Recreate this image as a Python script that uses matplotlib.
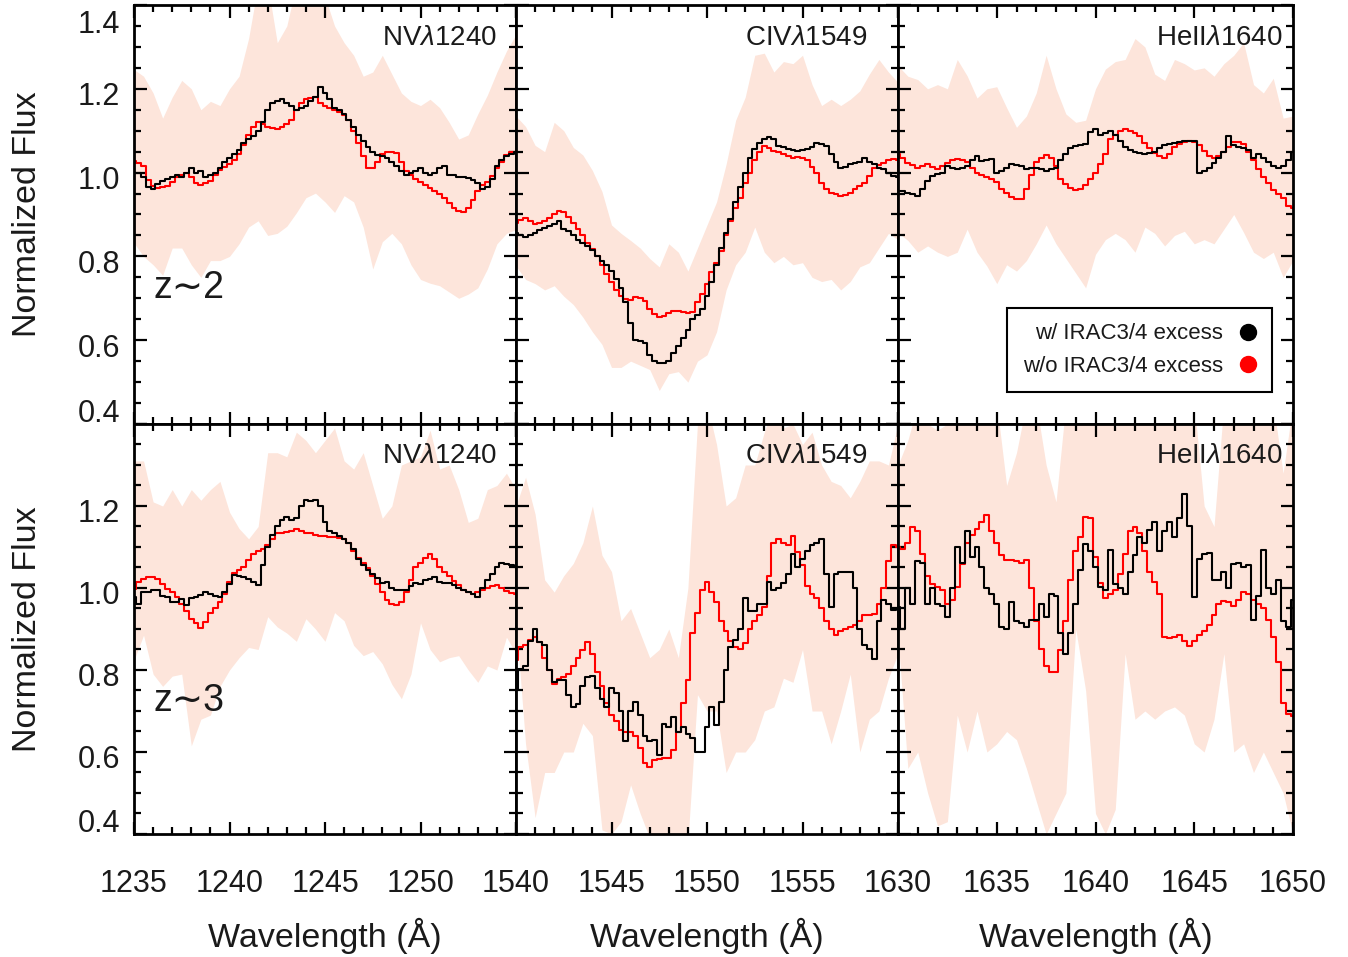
import matplotlib
matplotlib.use('Agg')
import matplotlib.pyplot as plt
import matplotlib.transforms as mtransforms
import numpy as np
from matplotlib.ticker import MultipleLocator
from matplotlib.lines import Line2D

plt.rcParams['font.family'] = ['Liberation Sans', 'DejaVu Sans']
plt.rcParams['mathtext.fontset'] = 'custom'
plt.rcParams['mathtext.rm'] = 'Liberation Sans'
plt.rcParams['mathtext.it'] = 'Liberation Sans:italic'

BAND = '#fde5db'
INK = '#1a1a1a'

# wavelength windows (Angstrom), composite spectra sampled every 0.25 A,
# scatter band every 0.5 A
nv_range = (1235, 1255)
civ_range = (1540, 1560)
heii_range = (1630, 1650)
line_step = 0.25
band_step = 0.5

# ---------------- z~2 ----------------
nv_z2_with = [1.000, 0.998, 0.990, 0.965, 0.960, 0.972, 0.980, 0.985, 0.990, 0.995,
              0.990, 1.000, 1.010, 1.000, 1.005, 0.990, 0.995, 1.000, 1.010, 1.025,
              1.035, 1.045, 1.055, 1.070, 1.080, 1.087, 1.100, 1.120, 1.150, 1.165,
              1.170, 1.175, 1.165, 1.160, 1.150, 1.155, 1.160, 1.170, 1.180, 1.205,
              1.190, 1.175, 1.155, 1.150, 1.140, 1.125, 1.110, 1.090, 1.075, 1.060,
              1.050, 1.043, 1.040, 1.035, 1.025, 1.015, 1.005, 0.995, 0.998, 1.005,
              1.010, 1.000, 0.995, 1.000, 1.010, 1.015, 0.995, 0.995, 0.990, 0.990,
              0.988, 0.983, 0.975, 0.960, 0.965, 0.985, 1.015, 1.030, 1.040, 1.045,
              1.050]
nv_z2_without = [1.027, 1.022, 1.015, 0.983, 0.968, 0.963, 0.965, 0.968, 0.978, 0.990,
                 0.995, 1.000, 0.990, 0.975, 0.970, 0.975, 0.980, 0.995, 1.007, 1.013,
                 1.020, 1.030, 1.045, 1.065, 1.090, 1.110, 1.120, 1.115, 1.108, 1.106,
                 1.105, 1.108, 1.115, 1.125, 1.150, 1.165, 1.175, 1.178, 1.180, 1.167,
                 1.160, 1.155, 1.150, 1.145, 1.138, 1.125, 1.100, 1.070, 1.040, 1.012,
                 1.010, 1.025, 1.045, 1.050, 1.050, 1.047, 1.025, 1.003, 0.995, 0.985,
                 0.978, 0.970, 0.963, 0.955, 0.948, 0.940, 0.928, 0.915, 0.908, 0.905,
                 0.915, 0.935, 0.955, 0.970, 0.978, 0.993, 1.010, 1.025, 1.043, 1.048,
                 1.050]
nv_z2_hi = [1.246, 1.23, 1.19, 1.13, 1.18, 1.22, 1.2, 1.15, 1.17, 1.16,
            1.2, 1.23, 1.32, 1.45, 1.45, 1.31, 1.35, 1.45, 1.45, 1.45,
            1.42, 1.35, 1.31, 1.28, 1.23, 1.24, 1.28, 1.235, 1.19, 1.17,
            1.16, 1.175, 1.155, 1.12, 1.08, 1.09, 1.14, 1.185, 1.24, 1.29,
            1.33]
nv_z2_lo = [0.832, 0.80, 0.78, 0.755, 0.82, 0.82, 0.78, 0.75, 0.79, 0.79,
            0.80, 0.83, 0.87, 0.885, 0.85, 0.855, 0.872, 0.904, 0.94, 0.951,
            0.93, 0.905, 0.945, 0.93, 0.87, 0.77, 0.835, 0.855, 0.83, 0.78,
            0.745, 0.736, 0.73, 0.715, 0.70, 0.71, 0.725, 0.77, 0.83, 0.855,
            0.864]

civ_z2_with = [0.857, 0.850, 0.847, 0.850, 0.855, 0.862, 0.868, 0.873, 0.878, 0.885,
               0.865, 0.860, 0.850, 0.840, 0.832, 0.825, 0.815, 0.800, 0.790, 0.780,
               0.765, 0.745, 0.725, 0.690, 0.640, 0.600, 0.598, 0.594, 0.565, 0.550,
               0.546, 0.546, 0.550, 0.570, 0.585, 0.605, 0.625, 0.650, 0.660, 0.675,
               0.705, 0.740, 0.780, 0.820, 0.855, 0.890, 0.930, 0.965, 1.000, 1.035,
               1.056, 1.070, 1.080, 1.085, 1.080, 1.064, 1.060, 1.056, 1.053, 1.052,
               1.055, 1.056, 1.060, 1.070, 1.068, 1.064, 1.045, 1.025, 1.012, 1.013,
               1.020, 1.022, 1.025, 1.036, 1.025, 1.020, 1.012, 1.008, 1.000, 0.992,
               0.990]
civ_z2_without = [0.880, 0.888, 0.892, 0.885, 0.877, 0.880, 0.885, 0.892, 0.900, 0.908,
                  0.905, 0.895, 0.880, 0.865, 0.850, 0.833, 0.817, 0.800, 0.780, 0.757,
                  0.740, 0.720, 0.705, 0.698, 0.697, 0.703, 0.700, 0.693, 0.675, 0.662,
                  0.655, 0.658, 0.665, 0.669, 0.669, 0.667, 0.664, 0.668, 0.690, 0.710,
                  0.735, 0.763, 0.785, 0.812, 0.850, 0.885, 0.915, 0.940, 0.975, 1.000,
                  1.030, 1.050, 1.064, 1.058, 1.052, 1.048, 1.044, 1.040, 1.036, 1.037,
                  1.035, 1.030, 1.013, 1.000, 0.976, 0.960, 0.952, 0.948, 0.944, 0.946,
                  0.952, 0.960, 0.968, 0.976, 0.993, 1.010, 1.018, 1.024, 1.030, 1.032,
                  1.030]
civ_z2_hi = [1.135, 1.11, 1.065, 1.05, 1.12, 1.1, 1.06, 1.042, 1.005, 0.955,
             0.875, 0.855, 0.838, 0.82, 0.795, 0.775, 0.83, 0.81, 0.765, 0.82,
             0.875, 0.93, 1.02, 1.125, 1.18, 1.28, 1.285, 1.24, 1.265, 1.26,
             1.28, 1.21, 1.16, 1.175, 1.16, 1.175, 1.195, 1.235, 1.27, 1.24,
             1.215]
civ_z2_lo = [0.777, 0.745, 0.735, 0.72, 0.73, 0.705, 0.685, 0.655, 0.62, 0.59,
             0.535, 0.535, 0.55, 0.54, 0.53, 0.48, 0.52, 0.525, 0.5, 0.55,
             0.565, 0.62, 0.72, 0.78, 0.81, 0.87, 0.81, 0.785, 0.8, 0.78,
             0.785, 0.75, 0.74, 0.745, 0.72, 0.74, 0.775, 0.785, 0.82, 0.855,
             0.84]

heii_z2_with = [0.956, 0.955, 0.952, 0.950, 0.944, 0.960, 0.980, 0.993, 0.997, 1.000,
                1.016, 1.010, 1.008, 1.012, 1.016, 1.030, 1.040, 1.028, 1.030, 1.032,
                1.000, 1.005, 1.012, 1.020, 1.018, 1.016, 1.008, 1.010, 1.012, 1.008,
                1.005, 1.008, 1.010, 1.030, 1.044, 1.058, 1.064, 1.066, 1.068, 1.096,
                1.104, 1.090, 1.095, 1.100, 1.090, 1.075, 1.060, 1.054, 1.048, 1.047,
                1.045, 1.046, 1.050, 1.058, 1.066, 1.068, 1.070, 1.072, 1.075, 1.076,
                1.075, 1.000, 1.005, 1.012, 1.024, 1.035, 1.050, 1.088, 1.065, 1.062,
                1.058, 1.055, 1.035, 1.045, 1.035, 1.025, 1.016, 1.012, 1.015, 1.030,
                1.050]
heii_z2_without = [1.044, 1.035, 1.024, 1.018, 1.012, 1.016, 1.020, 1.014, 1.008, 1.015,
                   1.024, 1.030, 1.033, 1.030, 1.025, 1.010, 1.000, 0.995, 0.990, 0.985,
                   0.978, 0.962, 0.952, 0.942, 0.936, 0.936, 0.960, 0.995, 1.025, 1.036,
                   1.041, 1.035, 1.015, 0.984, 0.972, 0.964, 0.958, 0.962, 0.970, 0.985,
                   1.000, 1.020, 1.045, 1.080, 1.090, 1.100, 1.104, 1.100, 1.095, 1.088,
                   1.070, 1.058, 1.047, 1.040, 1.036, 1.044, 1.060, 1.068, 1.074, 1.076,
                   1.072, 1.065, 1.052, 1.040, 1.036, 1.040, 1.048, 1.060, 1.072, 1.072,
                   1.068, 1.050, 1.030, 1.008, 0.990, 0.975, 0.958, 0.950, 0.940, 0.920,
                   0.916]
heii_z2_hi = [1.255, 1.23, 1.222, 1.2, 1.21, 1.2, 1.27, 1.231, 1.178, 1.2,
              1.205, 1.155, 1.108, 1.135, 1.19, 1.28, 1.2, 1.14, 1.12, 1.125,
              1.2, 1.247, 1.265, 1.27, 1.32, 1.3, 1.235, 1.22, 1.27, 1.26,
              1.245, 1.25, 1.23, 1.26, 1.28, 1.31, 1.21, 1.19, 1.225, 1.13,
              1.135]
heii_z2_lo = [0.857, 0.838, 0.81, 0.825, 0.81, 0.8, 0.81, 0.865, 0.81, 0.777,
              0.735, 0.78, 0.765, 0.79, 0.83, 0.875, 0.83, 0.795, 0.76, 0.725,
              0.805, 0.84, 0.855, 0.84, 0.81, 0.87, 0.855, 0.825, 0.85, 0.86,
              0.83, 0.84, 0.83, 0.865, 0.9, 0.857, 0.81, 0.795, 0.81, 0.75,
              0.79]

# ---------------- z~3 ----------------
nv_z3_with = [0.978, 0.960, 0.990, 0.990, 0.994, 0.995, 0.980, 0.978, 0.965, 0.965,
              0.974, 0.958, 0.975, 0.978, 0.982, 0.990, 0.985, 0.980, 0.978, 0.990,
              1.010, 1.031, 1.030, 1.028, 1.022, 1.015, 1.007, 1.055, 1.100, 1.130,
              1.150, 1.165, 1.173, 1.165, 1.170, 1.200, 1.214, 1.212, 1.215, 1.200,
              1.160, 1.140, 1.133, 1.128, 1.120, 1.110, 1.095, 1.070, 1.055, 1.045,
              1.035, 1.025, 1.013, 1.015, 1.000, 0.994, 0.994, 0.994, 1.005, 1.011,
              1.010, 1.019, 1.022, 1.027, 1.015, 1.012, 1.011, 1.008, 1.000, 0.995,
              0.990, 0.985, 0.978, 1.000, 1.020, 1.035, 1.050, 1.060, 1.058, 1.055,
              1.051]
nv_z3_without = [0.998, 1.015, 1.022, 1.028, 1.028, 1.022, 1.010, 0.998, 0.990, 0.978,
                 0.962, 0.945, 0.925, 0.915, 0.903, 0.918, 0.940, 0.950, 0.965, 0.985,
                 1.015, 1.036, 1.044, 1.052, 1.068, 1.084, 1.090, 1.096, 1.104, 1.120,
                 1.133, 1.135, 1.137, 1.140, 1.145, 1.140, 1.135, 1.133, 1.130, 1.128,
                 1.126, 1.125, 1.124, 1.122, 1.120, 1.110, 1.090, 1.072, 1.060, 1.048,
                 1.030, 1.010, 0.990, 0.970, 0.962, 0.958, 0.965, 0.990, 1.020, 1.050,
                 1.062, 1.072, 1.082, 1.070, 1.050, 1.040, 1.030, 1.018, 1.008, 0.995,
                 0.990, 0.986, 0.990, 0.996, 1.000, 1.005, 1.007, 1.000, 0.992, 0.988,
                 0.985]
nv_z3_hi = [1.31, 1.31, 1.21, 1.2, 1.24, 1.2, 1.24, 1.214, 1.24, 1.26,
            1.185, 1.145, 1.12, 1.15, 1.33, 1.33, 1.32, 1.38, 1.36, 1.33,
            1.36, 1.39, 1.31, 1.29, 1.33, 1.25, 1.17, 1.2, 1.3, 1.31,
            1.32, 1.385, 1.29, 1.3, 1.24, 1.16, 1.17, 1.24, 1.25, 1.28,
            1.24]
nv_z3_lo = [0.824, 0.885, 0.79, 0.76, 0.785, 0.79, 0.615, 0.68, 0.69, 0.76,
            0.8, 0.83, 0.855, 0.85, 0.93, 0.905, 0.89, 0.87, 0.925, 0.9,
            0.87, 0.94, 0.92, 0.86, 0.835, 0.845, 0.815, 0.765, 0.73, 0.79,
            0.915, 0.85, 0.82, 0.83, 0.835, 0.8, 0.77, 0.81, 0.8, 0.88,
            0.84]

civ_z3_with = [0.750, 0.803, 0.810, 0.870, 0.900, 0.868, 0.860, 0.800, 0.771, 0.775,
               0.775, 0.740, 0.710, 0.718, 0.760, 0.783, 0.785, 0.755, 0.730, 0.710,
               0.755, 0.745, 0.700, 0.628, 0.700, 0.722, 0.690, 0.640, 0.628, 0.630,
               0.592, 0.669, 0.660, 0.685, 0.650, 0.660, 0.645, 0.635, 0.600, 0.600,
               0.660, 0.710, 0.665, 0.722, 0.800, 0.855, 0.872, 0.900, 0.975, 0.945,
               0.945, 0.960, 0.960, 1.015, 0.995, 1.000, 1.012, 1.035, 1.084, 1.050,
               1.070, 1.090, 1.105, 1.110, 1.120, 1.035, 0.954, 1.035, 1.040, 1.040,
               1.038, 1.000, 0.900, 0.860, 0.850, 0.828, 0.920, 0.970, 0.960, 0.946,
               0.948]
civ_z3_without = [0.824, 0.856, 0.862, 0.872, 0.880, 0.868, 0.830, 0.800, 0.767, 0.778,
                  0.783, 0.790, 0.810, 0.830, 0.848, 0.868, 0.840, 0.795, 0.762, 0.720,
                  0.690, 0.675, 0.653, 0.650, 0.648, 0.640, 0.610, 0.572, 0.563, 0.580,
                  0.582, 0.585, 0.585, 0.605, 0.650, 0.720, 0.775, 0.890, 0.940, 0.995,
                  1.015, 0.990, 0.965, 0.920, 0.895, 0.870, 0.856, 0.852, 0.865, 0.900,
                  0.920, 0.935, 0.954, 1.030, 1.110, 1.120, 1.110, 1.104, 1.128, 1.088,
                  1.055, 1.005, 0.985, 0.975, 0.950, 0.920, 0.900, 0.885, 0.895, 0.900,
                  0.905, 0.910, 0.920, 0.933, 0.935, 0.937, 0.960, 1.000, 1.065, 1.105,
                  1.100]
civ_z3_hi = [1.2, 1.27, 1.18, 1.02, 0.99, 1.03, 1.06, 1.11, 1.2, 1.08,
             1.04, 0.92, 0.95, 0.89, 0.83, 0.85, 0.9, 0.83, 1.0, 1.4,
             1.45, 1.35, 1.2, 1.22, 1.3, 1.3, 1.38, 1.45, 1.39, 1.4,
             1.35, 1.38, 1.3, 1.26, 1.25, 1.22, 1.26, 1.31, 1.31, 1.3,
             1.4]
civ_z3_lo = [0.92, 0.62, 0.44, 0.55, 0.55, 0.6, 0.6, 0.67, 0.64, 0.41,
             0.4, 0.43, 0.52, 0.45, 0.39, 0.35, 0.35, 0.35, 0.38, 0.74,
             0.7, 0.7, 0.55, 0.6, 0.6, 0.63, 0.7, 0.71, 0.78, 0.77,
             0.85, 0.7, 0.7, 0.62, 0.7, 0.79, 0.6, 0.68, 0.7, 0.78,
             0.84]

heii_z3_with = [0.954, 0.900, 1.000, 0.960, 1.067, 1.060, 0.960, 1.000, 0.962, 0.955,
                0.929, 1.000, 1.100, 1.060, 1.140, 1.076, 1.100, 1.050, 1.000, 0.986,
                0.962, 0.905, 0.900, 0.965, 0.920, 0.915, 0.905, 0.921, 0.921, 0.960,
                0.930, 0.986, 0.980, 0.890, 0.840, 0.890, 0.962, 1.043, 1.108, 1.090,
                1.050, 1.003, 0.995, 1.092, 1.010, 1.000, 0.985, 1.040, 1.080, 1.124,
                1.110, 1.141, 1.160, 1.090, 1.140, 1.160, 1.125, 1.170, 1.230, 1.150,
                0.978, 1.070, 1.084, 1.085, 1.019, 1.020, 1.040, 1.000, 1.059, 1.060,
                1.050, 1.055, 0.921, 0.980, 1.092, 1.000, 0.985, 1.020, 0.920, 0.905,
                0.970]
heii_z3_without = [1.100, 1.095, 1.110, 1.148, 1.140, 1.084, 1.030, 1.010, 1.003, 0.995,
                   0.962, 0.970, 1.003, 1.059, 1.110, 1.130, 1.145, 1.160, 1.177, 1.140,
                   1.110, 1.080, 1.068, 1.068, 1.066, 1.060, 1.068, 1.000, 0.920, 0.850,
                   0.810, 0.795, 0.795, 0.848, 0.920, 1.020, 1.090, 1.124, 1.173, 1.170,
                   1.075, 1.011, 0.975, 0.985, 0.995, 1.035, 1.084, 1.140, 1.149, 1.135,
                   1.090, 1.040, 1.015, 0.985, 0.880, 0.878, 0.880, 0.885, 0.870, 0.858,
                   0.870, 0.885, 0.895, 0.910, 0.935, 0.960, 0.968, 0.965, 0.955, 0.970,
                   0.990, 0.985, 0.970, 0.960, 0.952, 0.921, 0.880, 0.820, 0.720, 0.693,
                   0.689]
heii_z3_hi = [1.3, 1.36, 1.45, 1.4, 1.385, 1.4, 1.45, 1.45, 1.45, 1.45,
              1.45, 1.25, 1.33, 1.45, 1.45, 1.3, 1.21, 1.45, 1.45, 1.45,
              1.45, 1.45, 1.39, 1.45, 1.45, 1.45, 1.45, 1.45, 1.45, 1.45,
              1.45, 1.2, 1.15, 1.45, 1.45, 1.45, 1.45, 1.45, 1.45, 1.28,
              1.45]
heii_z3_lo = [0.88, 0.56, 0.6, 0.5, 0.42, 0.43, 0.69, 0.6, 0.7, 0.6,
              0.62, 0.65, 0.63, 0.56, 0.48, 0.4, 0.45, 0.5, 0.9, 0.75,
              0.45, 0.4, 0.46, 0.84, 0.68, 0.7, 0.68, 0.7, 0.71, 0.69,
              0.62, 0.6, 0.68, 0.84, 0.6, 0.62, 0.55, 0.6, 0.55, 0.5,
              0.4]

line_names = [r'NV$\lambda$1240', r'CIV$\lambda$1549', r'HeII$\lambda$1640']
z_labels = ['z\u223c2', 'z\u223c3']
legend_labels = ['w/ IRAC3/4 excess', 'w/o IRAC3/4 excess']

panels = [
    [(nv_range, nv_z2_with, nv_z2_without, nv_z2_lo, nv_z2_hi),
     (civ_range, civ_z2_with, civ_z2_without, civ_z2_lo, civ_z2_hi),
     (heii_range, heii_z2_with, heii_z2_without, heii_z2_lo, heii_z2_hi)],
    [(nv_range, nv_z3_with, nv_z3_without, nv_z3_lo, nv_z3_hi),
     (civ_range, civ_z3_with, civ_z3_without, civ_z3_lo, civ_z3_hi),
     (heii_range, heii_z3_with, heii_z3_without, heii_z3_lo, heii_z3_hi)],
]

# where the line name sits (right edge, axes fraction) in each column
name_x = [0.950, 0.921, 0.975]

fig = plt.figure(figsize=(13.48, 9.57), dpi=100)
gs = fig.add_gridspec(2, 3, left=134 / 1348, right=1293 / 1348,
                      top=1 - 5 / 957, bottom=1 - 834 / 957,
                      wspace=0, hspace=0,
                      width_ratios=[382, 382, 395], height_ratios=[419, 410])

ytick_vals = [0.4, 0.6, 0.8, 1.0, 1.2, 1.4]
# IDL-style labels sit a few pixels below their ticks
label_drop = mtransforms.ScaledTranslation(0, -0.05, fig.dpi_scale_trans)

for row in range(2):
    for col in range(3):
        ax = fig.add_subplot(gs[row, col])
        (w0, w1), k, r, lo, hi = panels[row][col]
        wl = np.arange(w0, w1 + line_step / 2, line_step)
        wb = np.arange(w0, w1 + band_step / 2, band_step)

        ax.fill_between(wb, lo, hi, color=BAND, lw=0, zorder=1)
        ax.plot(wl, k, drawstyle='steps-mid', color='black', lw=1.5, zorder=3)
        ax.plot(wl, r, drawstyle='steps-mid', color='#ff0000', lw=1.5, zorder=2)

        ax.set_xlim(w0, w1)
        ax.set_ylim(0.4, 1.4)

        ax.xaxis.set_major_locator(MultipleLocator(5))
        ax.xaxis.set_minor_locator(MultipleLocator(1))
        ax.yaxis.set_minor_locator(MultipleLocator(0.05))
        ax.tick_params(which='both', direction='in', top=True, right=True,
                       width=1.6, colors='black', labelcolor=INK, labelsize=22)
        ax.tick_params(which='major', length=9)
        ax.tick_params(which='minor', length=5)
        ax.tick_params(axis='x', pad=25)
        ax.tick_params(axis='y', pad=10)
        for sp in ax.spines.values():
            sp.set_linewidth(2)

        # x tick labels only on the bottom row, last one dropped where panels meet
        xt = [w0, w0 + 5, w0 + 10, w0 + 15, w1]
        if row == 1:
            xl = [str(v) for v in xt]
            if col < 2:
                xl[-1] = ''
            ax.set_xticks(xt, xl)
            ax.set_xlabel('Wavelength (\u00c5)', fontsize=24.5, color=INK, va='center')
            ax.xaxis.set_label_coords(0.5, -0.249)
        else:
            ax.set_xticks(xt)
            ax.tick_params(labelbottom=False)

        if col == 0:
            yl = ['%.1f' % v for v in ytick_vals]
            if row == 1:
                yl[-1] = ''
            ax.set_yticks(ytick_vals, yl)
            ticks = ax.yaxis.get_major_ticks()
            ticks[0].label1.set_va('bottom')
            ticks[-1].label1.set_va('top')
            for t in ticks:
                t.label1.set_transform(t.label1.get_transform() + label_drop)
            ax.set_ylabel('Normalized Flux', fontsize=24.5, color=INK, va='center')
            ax.yaxis.set_label_coords(-0.28, 0.5)
            ax.text(0.05, 0.325, z_labels[row], transform=ax.transAxes,
                    fontsize=27, color=INK, ha='left', va='center')
        else:
            ax.set_yticks(ytick_vals)
            ax.tick_params(labelleft=False)

        ax.text(name_x[col], 0.921, line_names[col], transform=ax.transAxes,
                fontsize=20, color=INK, ha='right', va='center')

        if row == 0 and col == 2:
            handles = [Line2D([], [], ls='none', marker='o', ms=11.5, color='black'),
                       Line2D([], [], ls='none', marker='o', ms=11.5, color='#ff0000')]
            leg = ax.legend(handles, legend_labels, loc='lower right',
                            bbox_to_anchor=(0.947, 0.076), borderaxespad=0,
                            markerfirst=False, fontsize=16, frameon=True,
                            fancybox=False, edgecolor='black', framealpha=1,
                            handlelength=0.8, handletextpad=0.7,
                            labelspacing=0.5, borderpad=0.7)
            leg.get_frame().set_linewidth(1.5)
            for t in leg.get_texts():
                t.set_color(INK)

fig.savefig('out.png', dpi=100, facecolor='white')
